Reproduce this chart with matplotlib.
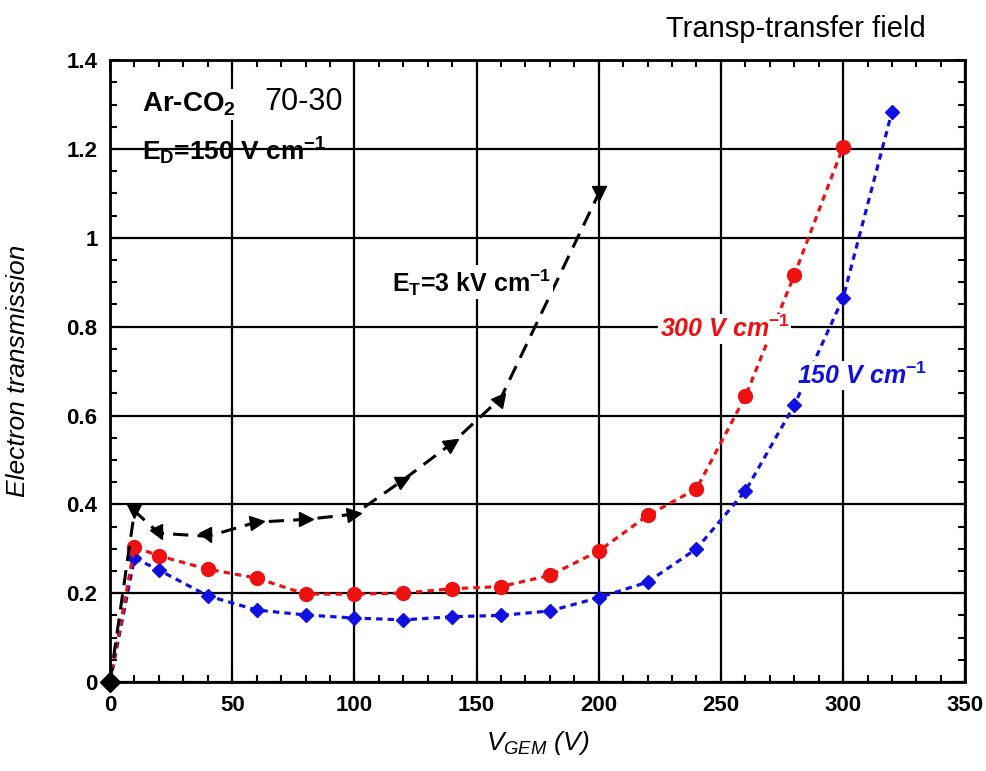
import matplotlib.pyplot as plt
from matplotlib.markers import MarkerStyle
from matplotlib.transforms import Affine2D
from matplotlib.ticker import MultipleLocator, FormatStrFormatter

plt.rcParams['font.family'] = ['Liberation Sans', 'DejaVu Sans']
plt.rcParams['mathtext.fontset'] = 'custom'
plt.rcParams['mathtext.rm'] = 'Liberation Sans'
plt.rcParams['mathtext.it'] = 'Liberation Sans:italic'
plt.rcParams['mathtext.bf'] = 'Liberation Sans:bold'

# data
v_black = [0, 10, 20, 40, 60, 80, 100, 120, 140, 160, 200]
t_black = [0, 0.385, 0.335, 0.328, 0.36, 0.366, 0.378, 0.455, 0.538, 0.64, 1.10]

v_red = [0, 10, 20, 40, 60, 80, 100, 120, 140, 160, 180, 200, 220, 240, 260, 280, 300]
t_red = [0, 0.304, 0.284, 0.254, 0.234, 0.198, 0.198, 0.2, 0.21, 0.215, 0.24,
         0.295, 0.375, 0.435, 0.643, 0.916, 1.205]

v_blue = [0, 10, 20, 40, 60, 80, 100, 120, 140, 160, 180, 200, 220, 240, 260,
          280, 300, 320]
t_blue = [0, 0.279, 0.252, 0.194, 0.162, 0.151, 0.144, 0.14, 0.147, 0.15, 0.16,
          0.19, 0.225, 0.3, 0.43, 0.623, 0.865, 1.284]

# arrow directions of the black triangles (degrees)
black_angles = [None, -90, -60, -60, 5, 0, 10, 30, 35, 50, -90]

fig = plt.figure(figsize=(9.87, 7.71), dpi=100)
ax = fig.add_axes([0.1115, 0.1154, 0.8665, 0.8066])

ax.plot(v_blue, t_blue, color='#1010e0', ls=(0, (2, 1.6)), lw=2.3,
        marker='D', ms=7, zorder=3)
ax.plot(v_red, t_red, color='#ee1111', ls=(0, (2, 1.6)), lw=2.3,
        marker='o', ms=10, zorder=4)
ax.plot(v_black, t_black, color='black', ls=(0, (5, 3)), lw=2.2, zorder=5)
for x, y, a in zip(v_black, t_black, black_angles):
    if a is None:
        ax.plot(x, y, marker='D', color='black', ms=10, zorder=8, clip_on=False)
    else:
        m = MarkerStyle('>', transform=Affine2D().rotate_deg(a))
        ax.plot(x, y, marker=m, color='black', ms=10, ls='none', zorder=6)

ax.set_xlim(0, 350)
ax.set_ylim(0, 1.4)
ax.xaxis.set_major_locator(MultipleLocator(50))
ax.xaxis.set_minor_locator(MultipleLocator(10))
ax.yaxis.set_major_locator(MultipleLocator(0.2))
ax.yaxis.set_minor_locator(MultipleLocator(0.05))
ax.yaxis.set_major_formatter(FormatStrFormatter('%g'))
ax.grid(True, which='major', color='black', lw=1.6, zorder=1)
ax.tick_params(which='both', direction='in', top=True, right=True, width=1.5)
ax.tick_params(which='major', length=8, labelsize=16, pad=9)
ax.tick_params(which='minor', length=5)
for lab in ax.get_xticklabels() + ax.get_yticklabels():
    lab.set_fontweight('bold')
for s in ax.spines.values():
    s.set_linewidth(2)
    s.set_zorder(7)

ax.set_xlabel(r'$V_{GEM}$ (V)', fontsize=19, style='italic', labelpad=10)
ax.set_ylabel('Electron transmission', fontsize=19, style='italic', labelpad=26)

box = dict(facecolor='white', edgecolor='none', pad=1)
ax.text(13, 1.3, r'Ar-CO$_{\mathbf{2}}$', fontsize=20, fontweight='bold',
        va='center', bbox=box, zorder=8)
ax.text(63, 1.305, '70-30', fontsize=22, va='center', zorder=8)
ax.text(13, 1.195, r'E$_{\mathbf{D}}$=150 V cm$^{\mathbf{-1}}$', fontsize=19,
        fontweight='bold', va='center', zorder=8)
ax.text(148, 0.9, r'E$_{\mathbf{T}}$=3 kV cm$^{\mathbf{-1}}$', fontsize=18,
        fontweight='bold', ha='center', va='center', bbox=box, zorder=8)
ax.text(225, 0.795, r'300 V cm$^{\mathbf{-1}}$', fontsize=18,
        fontweight='bold', style='italic', color='#ee1111', va='center',
        bbox=box, zorder=8)
ax.text(281, 0.69, r'150 V cm$^{\mathbf{-1}}$', fontsize=18,
        fontweight='bold', style='italic', color='#1010e0', va='center',
        bbox=box, zorder=8)
fig.text(0.938, 0.963, 'Transp-transfer field', fontsize=21, ha='right',
         va='center')

fig.savefig('out.png', dpi=100, facecolor='white')
